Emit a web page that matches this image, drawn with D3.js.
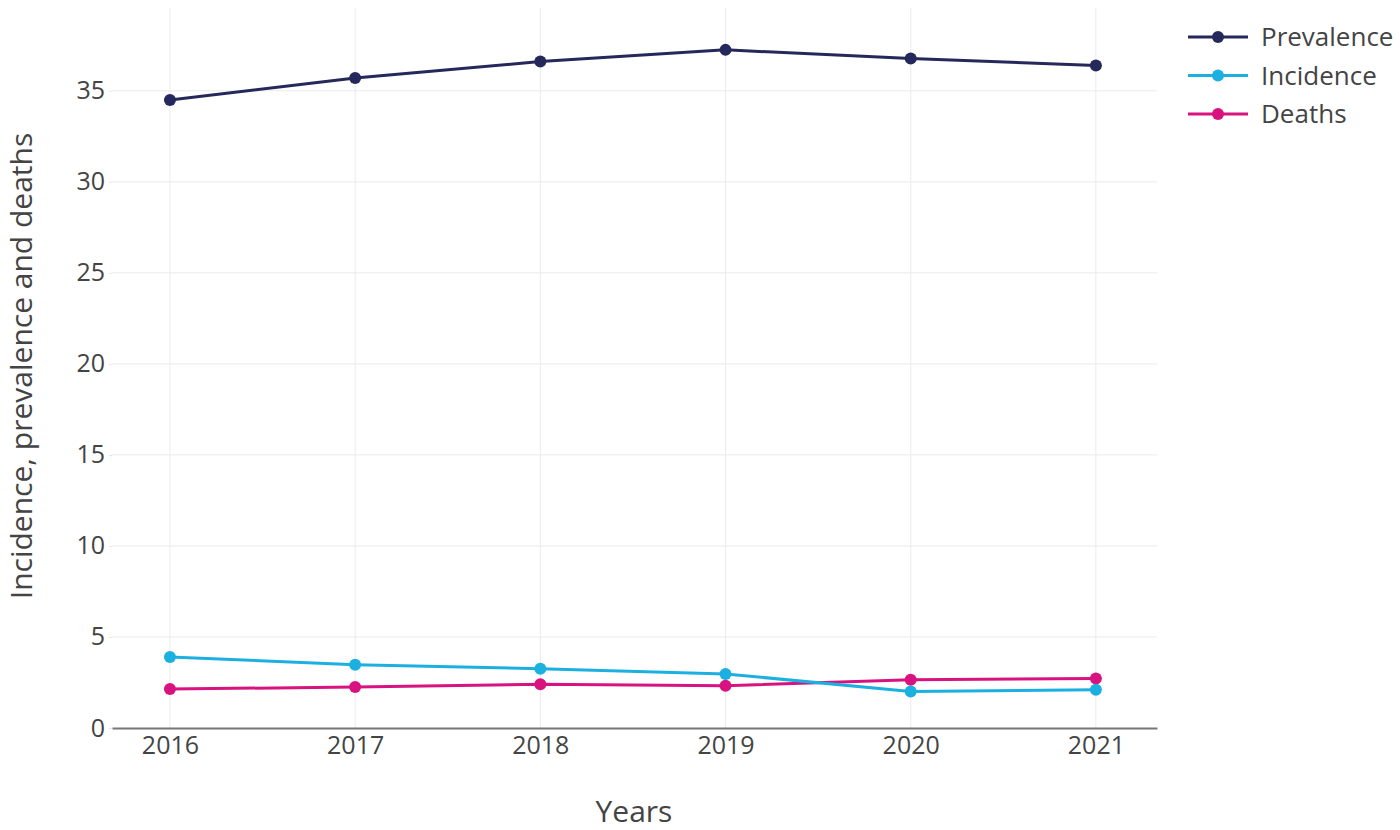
<!DOCTYPE html>
<html><head><meta charset="utf-8">
<script src="https://cdn.jsdelivr.net/npm/d3@7"></script>
<style>body{margin:0;background:#fff;} svg{display:block;font-family:"Open Sans","Segoe UI",sans-serif;}</style>
</head><body><svg id="c" width="1400" height="830"></svg>
<script>
const years = [2016, 2017, 2018, 2019, 2020, 2021];
const prevalence = [34.50, 35.70, 36.61, 37.25, 36.77, 36.39];
const incidence = [3.90, 3.48, 3.26, 2.97, 2.01, 2.10];
const deaths = [2.14, 2.25, 2.40, 2.32, 2.65, 2.72];
const yTicks = [0, 5, 10, 15, 20, 25, 30, 35];
const seriesNames = ["Prevalence", "Incidence", "Deaths"];
const seriesColors = ["#25285a", "#1cb0e0", "#d8137f"];

const series = [prevalence, incidence, deaths].map((v, i) => ({name: seriesNames[i], color: seriesColors[i], values: v}));

const svg = d3.select("#c");
const L = 112, R = 1157, T = 8, B = 728;
const x = d3.scaleLinear().domain([2015.687, 2021.33]).range([L, R]);
const y = d3.scaleLinear().domain([0, 39.55]).range([B, T]);

// grid
svg.append("g").selectAll("line.v").data(years).join("line")
  .attr("x1", d => x(d)).attr("x2", d => x(d)).attr("y1", T).attr("y2", B)
  .attr("stroke", "#ebebeb").attr("stroke-width", 1);
svg.append("g").selectAll("line.h").data(yTicks.filter(d => d > 0)).join("line")
  .attr("x1", L).attr("x2", R).attr("y1", d => y(d)).attr("y2", d => y(d))
  .attr("stroke", "#ebebeb").attr("stroke-width", 1);

// y axis
const ya = svg.append("g").attr("transform", `translate(${L},0)`)
  .call(d3.axisLeft(y).tickValues(yTicks).tickSize(3).tickPadding(4));
ya.select(".domain").remove();
ya.selectAll(".tick line").attr("stroke", "#e6e6e6");
ya.selectAll("text").attr("font-size", 25).attr("fill", "#444").attr("font-family", "Open Sans");

// x axis
const xa = svg.append("g").attr("transform", `translate(0,${B})`)
  .call(d3.axisBottom(x).tickValues(years).tickFormat(d3.format("d")).tickSize(0).tickPadding(8));
xa.select(".domain").attr("stroke", "#777").attr("stroke-width", 2);
xa.selectAll("text").attr("font-size", 25).attr("fill", "#444").attr("font-family", "Open Sans");

// axis titles
svg.append("text").attr("x", 634).attr("y", 822)
  .attr("text-anchor", "middle").attr("font-size", 30).attr("fill", "#444").text("Years");
svg.append("text").attr("transform", `translate(32,366) rotate(-90)`)
  .attr("text-anchor", "middle").attr("font-size", 30).attr("fill", "#444")
  .text("Incidence, prevalence and deaths");

// lines
const line = d3.line().x((d, i) => x(years[i])).y(d => y(d));
const g = svg.append("g");
[...series].reverse().forEach(s => {
  g.append("path").attr("d", line(s.values)).attr("fill", "none")
    .attr("stroke", s.color).attr("stroke-width", 3);
  g.selectAll(null).data(s.values).join("circle")
    .attr("cx", (d, i) => x(years[i])).attr("cy", d => y(d)).attr("r", 6)
    .attr("fill", s.color);
});

// legend
const lg = svg.append("g");
series.forEach((s, i) => {
  const yy = 37 + i * 38.5;
  lg.append("line").attr("x1", 1188).attr("x2", 1248).attr("y1", yy).attr("y2", yy)
    .attr("stroke", s.color).attr("stroke-width", 3);
  lg.append("circle").attr("cx", 1218).attr("cy", yy).attr("r", 6).attr("fill", s.color);
  lg.append("text").attr("x", 1261).attr("y", yy).attr("dy", "0.36em")
    .attr("font-size", 26).attr("fill", "#444").text(s.name);
});
</script></body></html>
